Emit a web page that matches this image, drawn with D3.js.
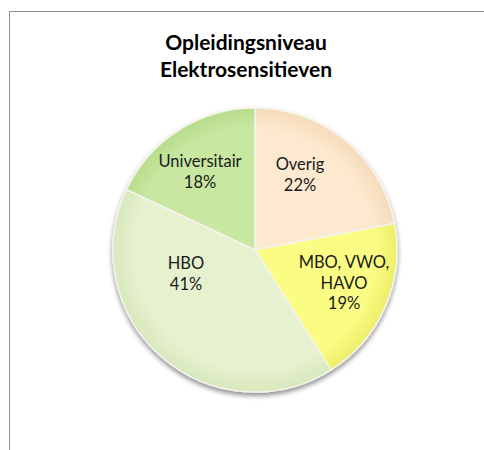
<!DOCTYPE html>
<html>
<head>
<meta charset="utf-8">
<script src="https://cdn.jsdelivr.net/npm/d3@7"></script>
<style>
  body { margin: 0; background: #fff; }
  svg { display: block; }
</style>
</head>
<body>
<div id="chart"></div>
<script>
// data
var categories = ["Overig", "MBO, VWO, HAVO", "HBO", "Universitair"];
var values = [22, 19, 41, 18];
var labelLines = [["Overig"], ["MBO, VWO,", "HAVO"], ["HBO"], ["Universitair"]];
var titleLines = ["Opleidingsniveau", "Elektrosensitieven"];

var width = 484, height = 450;
var cx = 255, cy = 250, radius = 142;

// fill colours per slice (inner / outer of a soft radial gradient)
var colors = [
  ["#fde9cf", "#f5dbb9"],
  ["#fbfc84", "#ecee68"],
  ["#e6f1cf", "#d8e8bc"],
  ["#c8e8a2", "#b8dc8c"]
];

var svg = d3.select("#chart").append("svg")
  .attr("width", width)
  .attr("height", height);

var defs = svg.append("defs");

var shadow = defs.append("filter")
  .attr("id", "shadow")
  .attr("x", "-20%").attr("y", "-20%")
  .attr("width", "140%").attr("height", "140%");
shadow.append("feGaussianBlur").attr("in", "SourceAlpha").attr("stdDeviation", 2.5);
shadow.append("feOffset").attr("dx", 0).attr("dy", 3).attr("result", "blur");
shadow.append("feComponentTransfer").append("feFuncA").attr("type", "linear").attr("slope", 0.45);
var merge = shadow.append("feMerge");
merge.append("feMergeNode");
merge.append("feMergeNode").attr("in", "SourceGraphic");

colors.forEach(function(c, i) {
  var g = defs.append("radialGradient")
    .attr("id", "grad" + i)
    .attr("gradientUnits", "userSpaceOnUse")
    .attr("cx", 0).attr("cy", 0).attr("r", radius);
  g.append("stop").attr("offset", "0%").attr("stop-color", c[0]);
  g.append("stop").attr("offset", "85%").attr("stop-color", c[0]);
  g.append("stop").attr("offset", "100%").attr("stop-color", c[1]);
});

// chart frame (only left and top edges are visible in the crop)
svg.append("path")
  .attr("d", "M9.5," + height + "V11.5H" + width)
  .attr("fill", "none")
  .attr("stroke", "#8c8c8c")
  .attr("stroke-width", 1);

// title
svg.append("text")
  .attr("x", 246)
  .attr("y", 50)
  .attr("text-anchor", "middle")
  .style("font-family", "Lato, 'Open Sans', sans-serif")
  .style("font-weight", "bold")
  .style("font-size", "21px")
  .style("fill", "#000")
  .selectAll("tspan")
  .data(titleLines)
  .enter().append("tspan")
  .attr("x", 246)
  .attr("dy", function(d, i) { return i ? 27 : 0; })
  .text(function(d) { return d; });

var pie = d3.pie().sort(null).value(function(d) { return d; });
var arcs = pie(values);
var arc = d3.arc().innerRadius(0).outerRadius(radius);

var g = svg.append("g")
  .attr("transform", "translate(" + cx + "," + cy + ")");

var slices = g.append("g").attr("filter", "url(#shadow)");

slices.selectAll("path")
  .data(arcs)
  .enter().append("path")
  .attr("d", arc)
  .attr("fill", function(d, i) { return "url(#grad" + i + ")"; })
  .attr("stroke", "#f4f4ec")
  .attr("stroke-width", 1.5)
  .attr("stroke-linejoin", "round");

// label positions picked to match the picture
var labelPos = [[45, -80], [89, 18], [-69, 19], [-55, -83]];

var labels = g.selectAll(".label")
  .data(arcs)
  .enter().append("text")
  .attr("class", "label")
  .attr("text-anchor", "middle")
  .style("font-family", "Lato, 'Open Sans', sans-serif")
  .style("font-size", "16.5px")
  .style("fill", "#1a1a1a");

labels.each(function(d, i) {
  var t = d3.select(this);
  var lines = labelLines[i].concat([values[i] + "%"]);
  t.selectAll("tspan")
    .data(lines)
    .enter().append("tspan")
    .attr("x", labelPos[i][0])
    .attr("y", function(l, j) { return labelPos[i][1] + j * 20.5; })
    .text(function(l) { return l; });
});
</script>
</body>
</html>
